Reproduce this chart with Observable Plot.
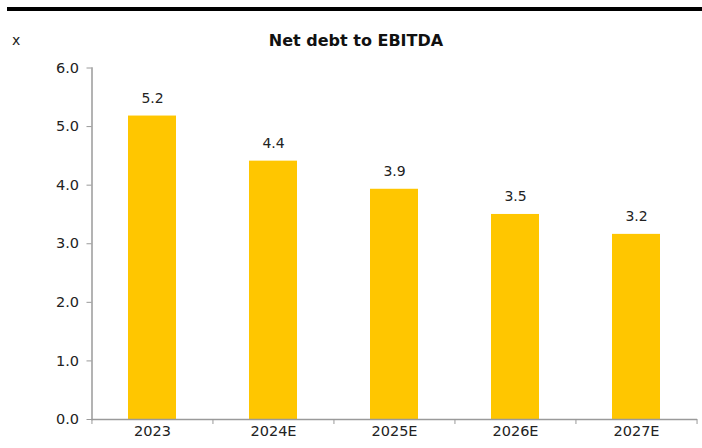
<!DOCTYPE html>
<html>
<head>
<meta charset="utf-8">
<script src="https://cdn.jsdelivr.net/npm/d3@7"></script>
<script src="https://cdn.jsdelivr.net/npm/@observablehq/plot@0.6"></script>
<style>
  html, body { margin: 0; padding: 0; background: #fff; }
  #wrap { position: relative; width: 702px; height: 448px; overflow: hidden; font-family: "DejaVu Sans", sans-serif; }
  #rule { position: absolute; left: 7px; right: 0; top: 7px; height: 4px; background: #000; }
  #title { position: absolute; left: 0; width: 712px; top: 31px; text-align: center; font-weight: bold; font-size: 16px; color: #111; }
  #unit { position: absolute; left: 12px; top: 32px; font-size: 14px; color: #222; }
  #chart { position: absolute; left: 0; top: 0; }
</style>
</head>
<body>
<div id="wrap">
  <div id="rule"></div>
  <div id="title">Net debt to EBITDA</div>
  <div id="unit">x</div>
  <div id="chart"></div>
</div>
<script>
const categories = ["2023", "2024E", "2025E", "2026E", "2027E"];
const values = [5.18, 4.41, 3.93, 3.5, 3.16];
const yTicks = [0, 1, 2, 3, 4, 5, 6];

const data = categories.map((c, i) => ({ cat: c, value: values[i] }));

const W = 702, H = 448;
const mL = 91.5, mR = 5, mT = 67.5, mB = 29;
const step = (W - mL - mR) / categories.length;
const gray = "#9a9a9a";

const chart = Plot.plot({
  width: W,
  height: H,
  marginLeft: mL,
  marginRight: mR,
  marginTop: mT,
  marginBottom: mB,
  style: { fontFamily: "DejaVu Sans, sans-serif", fontSize: "14px", color: "#222", background: "transparent" },
  x: { domain: categories, paddingInner: 0.6, paddingOuter: 0.3, label: null },
  y: { domain: [0, 6], label: null },
  marks: [
    Plot.barY(data, { x: "cat", y: "value", fill: "#FFC600" }),
    Plot.text(data, { x: "cat", y: "value", text: d => d.value.toFixed(1), dy: -18, fill: "#222", fontSize: 14 }),
    Plot.ruleY([0], { stroke: gray, strokeWidth: 1.5 }),
    Plot.frame({ anchor: "left", stroke: gray, strokeWidth: 1.5 }),
    Plot.axisY({ ticks: yTicks, tickFormat: d => d.toFixed(1), tickSize: 5, tickPadding: 8, stroke: gray, fill: "#222", fontSize: 14.5, label: null }),
    Plot.axisX({ tickSize: 0, tickPadding: 6, fill: "#222", fontSize: 14.5, label: null }),
    Plot.axisX({ tickSize: 5, tickFormat: null, dx: -step / 2, stroke: gray, label: null }),
    Plot.axisX({ ticks: [categories[categories.length - 1]], tickSize: 5, tickFormat: null, dx: step / 2, stroke: gray, label: null })
  ]
});
document.getElementById("chart").appendChild(chart);
</script>
</body>
</html>
